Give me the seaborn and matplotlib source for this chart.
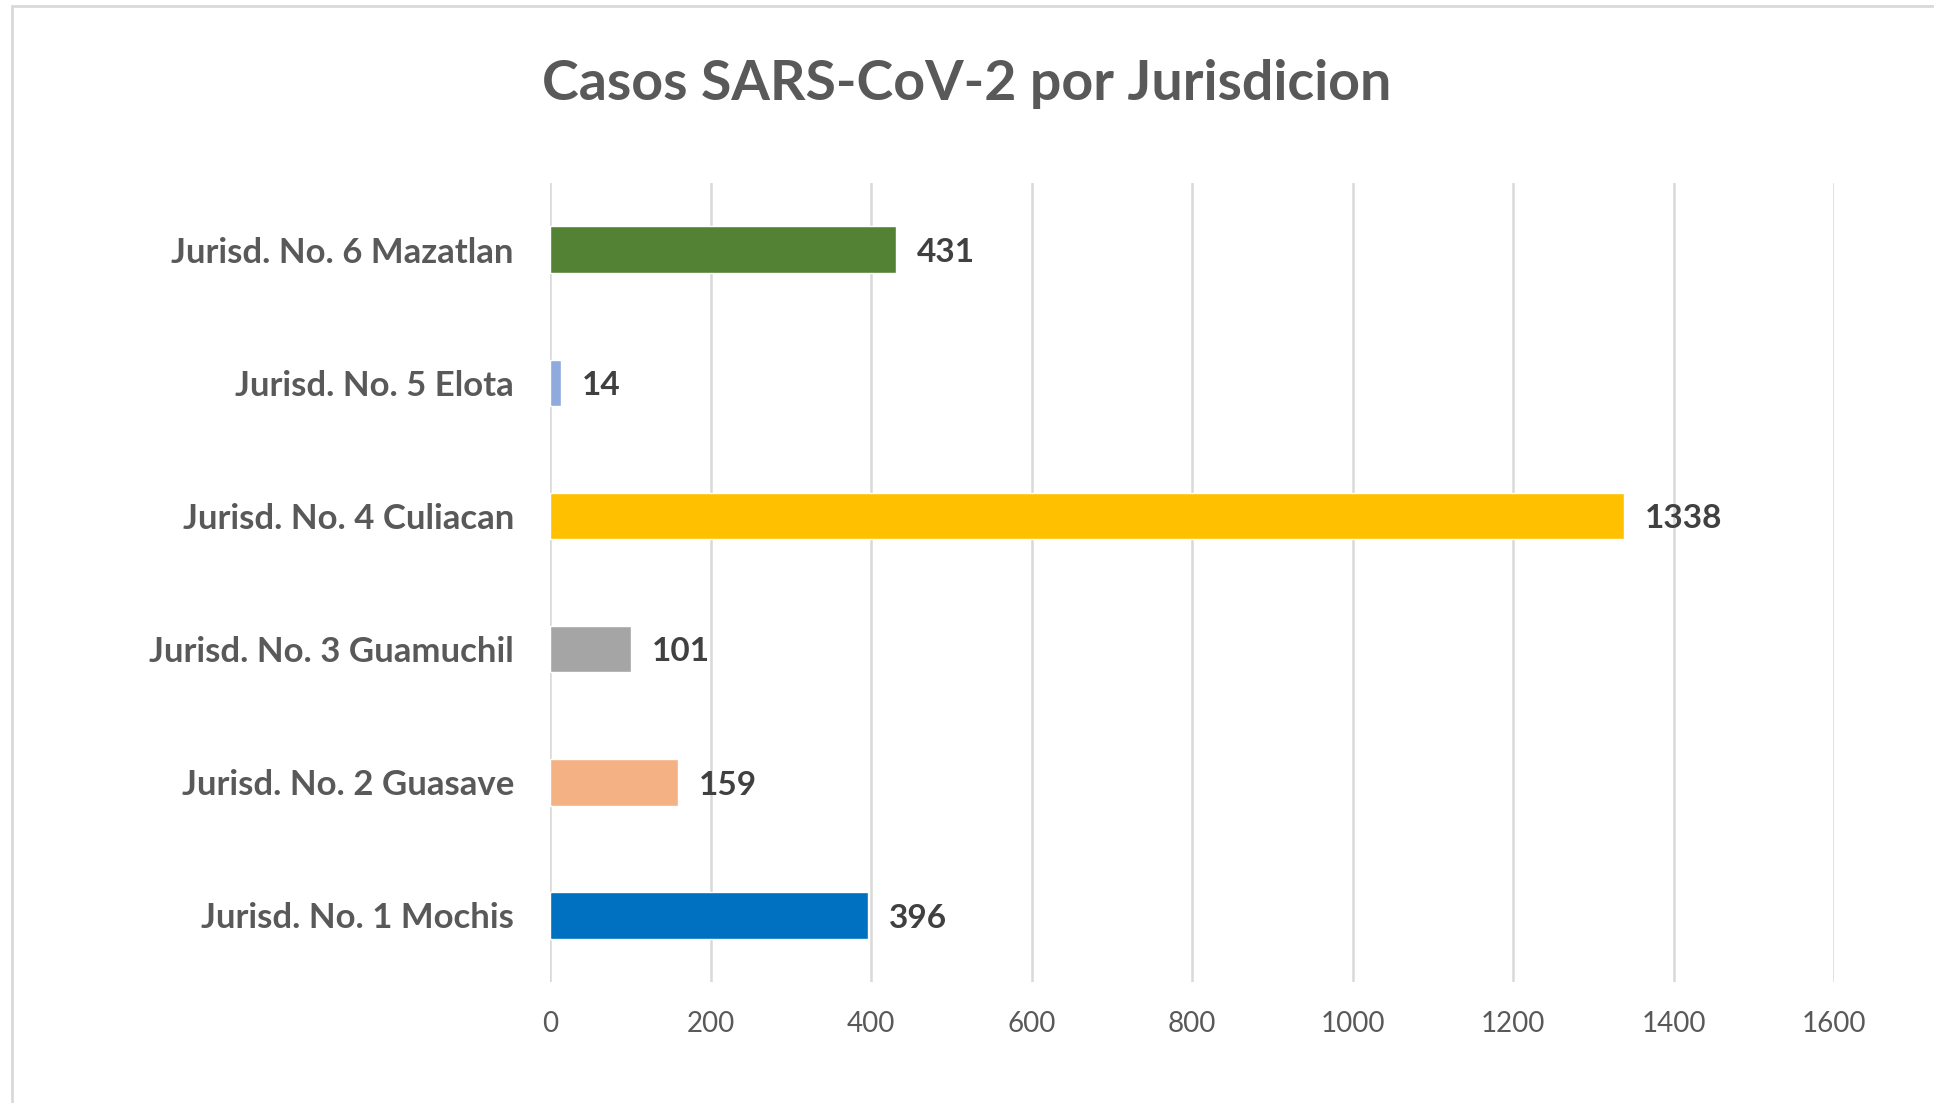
import matplotlib
matplotlib.use("Agg")
import matplotlib.pyplot as plt
import seaborn as sns
import pandas as pd
from matplotlib.lines import Line2D

# data
jurisdicciones = ["Jurisd. No. 1 Mochis", "Jurisd. No. 2 Guasave", "Jurisd. No. 3 Guamuchil",
                  "Jurisd. No. 4 Culiacan", "Jurisd. No. 5 Elota", "Jurisd. No. 6 Mazatlan"]
casos = [396, 159, 101, 1338, 14, 431]
colores = ["#0070C0", "#F4B183", "#A5A5A5", "#FFC000", "#8FAADC", "#548235"]
x_ticks = [0, 200, 400, 600, 800, 1000, 1200, 1400, 1600]

sns.set_theme(style="white")
plt.rcParams['font.family'] = ['Lato', 'DejaVu Sans']

df = pd.DataFrame({"jurisdiccion": jurisdicciones, "casos": casos})
orden = jurisdicciones[::-1]  # Mazatlan on top
paleta = dict(zip(jurisdicciones, colores))

fig = plt.figure(figsize=(19.34, 11.03), dpi=100)
ax = fig.add_axes([0.2844, 0.1097, 0.6639, 0.7243])

sns.barplot(data=df, x="casos", y="jurisdiccion", hue="jurisdiccion", order=orden,
            hue_order=orden, palette=paleta, width=0.35, dodge=False, legend=False,
            saturation=1, ax=ax, zorder=3)

ax.set_xlim(0, 1600)
ax.set_ylim(5.5, -0.5)
ax.set_xticks(x_ticks)
ax.set_xticklabels([str(t) for t in x_ticks])
ax.xaxis.grid(True, color="#D9D9D9", linewidth=1.8, zorder=0)
ax.set_axisbelow(True)
for s in ax.spines.values():
    s.set_visible(False)
ax.set_xlabel("")
ax.set_ylabel("")
ax.tick_params(axis="x", length=0, pad=21, labelsize=20, labelcolor="#595959")
ax.tick_params(axis="y", length=0, pad=26, labelsize=25, labelcolor="#595959")
for lbl in ax.get_yticklabels():
    lbl.set_fontweight("bold")

# value labels
for i, nombre in enumerate(orden):
    v = casos[jurisdicciones.index(nombre)]
    ax.annotate(str(v), xy=(v, i), xytext=(15, -2), textcoords="offset points",
                ha="left", va="center", fontsize=24, fontweight="bold", color="#404040")

fig.text(0.5, 0.924, "Casos SARS-CoV-2 por Jurisdicion", ha="center", va="center",
         fontsize=40, fontweight="bold", color="#595959")

# chart area border (top and left visible)
fig.add_artist(Line2D([0.006, 1.0], [0.9945, 0.9945], color="#D9D9D9", linewidth=2,
                      transform=fig.transFigure))
fig.add_artist(Line2D([0.006, 0.006], [0.0, 0.9945], color="#D9D9D9", linewidth=2,
                      transform=fig.transFigure))

fig.savefig("out.png", dpi=100, facecolor="white")
